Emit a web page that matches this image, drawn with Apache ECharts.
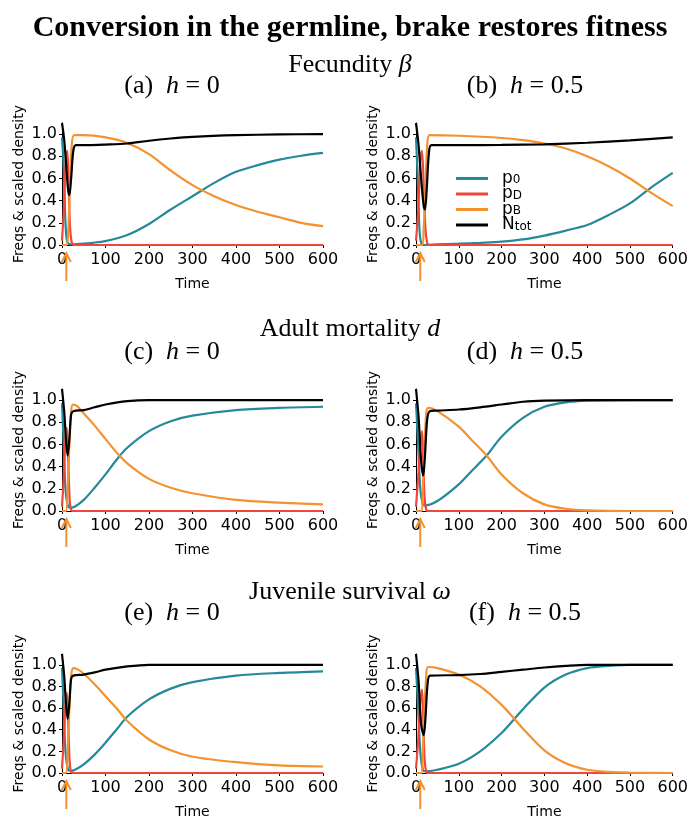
<!DOCTYPE html>
<html>
<head>
<meta charset="utf-8">
<script src="https://cdn.jsdelivr.net/npm/echarts@6/dist/echarts.min.js"></script>
<style>
  html, body { margin: 0; padding: 0; background: #fff; }
  #chart { width: 691px; height: 820px; }
</style>
</head>
<body>
<div id="chart"></div>
<script>
// tick labels and series names
var xTicks = [0, 100, 200, 300, 400, 500, 600];
var yTicks = [0, 0.2, 0.4, 0.6, 0.8, 1.0];
var seriesNames = ['p0', 'pD', 'pB', 'Ntot'];
var legendMain = ['p', 'p', 'p', 'N'];
var legendSub = ['0', 'D', 'B', 'tot'];
var arrowTime = 10;

// (a) fecundity, h = 0
var aP0 = [[0,0.97],[4,0.7],[8,0.2],[12,0.03],[20,0.005],[40,0.01],[70,0.02],[100,0.035],[150,0.09],[200,0.19],[250,0.32],[300,0.44],[350,0.56],[400,0.66],[450,0.72],[500,0.77],[550,0.805],[600,0.83]];
var aPD = [[0,0.04],[4,0.3],[8,0.7],[12,0.85],[15,0.6],[18,0.2],[22,0.03],[28,0],[100,0],[600,0]];
var aPB = [[0,0],[10,0],[14,0.1],[18,0.5],[22,0.88],[28,0.99],[50,0.99],[100,0.97],[150,0.92],[200,0.82],[250,0.67],[300,0.54],[350,0.44],[400,0.36],[450,0.3],[500,0.25],[550,0.2],[600,0.17]];
var aN  = [[0,1.1],[5,0.95],[10,0.7],[14,0.5],[17,0.45],[21,0.6],[26,0.85],[32,0.9],[60,0.9],[100,0.905],[150,0.915],[200,0.94],[250,0.96],[300,0.975],[400,0.99],[500,0.997],[600,1.0]];

// (b) fecundity, h = 0.5
var bP0 = [[0,0.97],[4,0.6],[8,0.15],[12,0.02],[20,0],[50,0.005],[100,0.012],[150,0.02],[200,0.03],[250,0.05],[300,0.085],[350,0.13],[400,0.18],[450,0.27],[500,0.375],[550,0.52],[600,0.65]];
var bPD = [[0,0.04],[5,0.3],[10,0.75],[14,0.85],[18,0.55],[22,0.15],[26,0.02],[30,0],[100,0],[600,0]];
var bPB = [[0,0],[14,0],[18,0.15],[22,0.5],[26,0.88],[32,0.99],[100,0.985],[200,0.965],[250,0.945],[300,0.915],[350,0.87],[400,0.8],[450,0.71],[500,0.6],[550,0.47],[600,0.35]];
var bN  = [[0,1.1],[6,0.9],[12,0.6],[18,0.35],[21,0.32],[25,0.5],[30,0.82],[36,0.9],[100,0.9],[200,0.902],[300,0.908],[400,0.922],[500,0.943],[600,0.97]];

// (c) adult mortality, h = 0
var cP0 = [[0,0.97],[4,0.6],[8,0.2],[14,0.04],[20,0.03],[30,0.04],[50,0.1],[75,0.21],[100,0.33],[125,0.46],[150,0.57],[200,0.72],[250,0.81],[300,0.86],[400,0.91],[500,0.93],[600,0.94]];
var cPD = [[0,0.04],[4,0.3],[8,0.65],[11,0.75],[14,0.5],[17,0.15],[20,0.02],[25,0],[100,0],[600,0]];
var cPB = [[0,0],[9,0],[13,0.2],[17,0.6],[21,0.9],[25,0.96],[35,0.945],[50,0.88],[75,0.77],[100,0.65],[125,0.53],[150,0.43],[200,0.29],[250,0.21],[300,0.16],[400,0.1],[500,0.075],[600,0.06]];
var cN  = [[0,1.1],[5,0.9],[9,0.65],[13,0.5],[17,0.65],[21,0.87],[26,0.9],[50,0.91],[75,0.935],[100,0.96],[150,0.99],[200,1.0],[600,1.0]];

// (d) adult mortality, h = 0.5
var dP0 = [[0,0.97],[5,0.6],[10,0.2],[16,0.06],[20,0.05],[50,0.09],[100,0.24],[130,0.36],[165,0.5],[200,0.67],[250,0.84],[300,0.94],[350,0.98],[400,0.995],[500,1.0],[600,1.0]];
var dPD = [[0,0.04],[5,0.3],[10,0.6],[14,0.72],[17,0.45],[20,0.12],[24,0.01],[28,0],[100,0],[600,0]];
var dPB = [[0,0],[12,0],[16,0.2],[20,0.6],[24,0.88],[28,0.93],[50,0.9],[100,0.76],[130,0.64],[165,0.5],[200,0.33],[250,0.16],[300,0.06],[350,0.02],[400,0.006],[500,0],[600,0]];
var dN  = [[0,1.1],[6,0.85],[12,0.45],[17,0.32],[21,0.5],[26,0.82],[32,0.9],[50,0.905],[100,0.915],[150,0.935],[200,0.96],[250,0.985],[300,0.995],[400,1.0],[600,1.0]];

// (e) juvenile survival, h = 0
var eP0 = [[0,0.97],[4,0.6],[8,0.2],[14,0.03],[20,0.02],[30,0.03],[50,0.08],[75,0.17],[100,0.28],[125,0.4],[150,0.52],[200,0.68],[250,0.78],[300,0.84],[400,0.9],[500,0.925],[600,0.94]];
var ePD = [[0,0.04],[4,0.3],[8,0.62],[11,0.74],[14,0.5],[17,0.15],[20,0.02],[25,0],[100,0],[600,0]];
var ePB = [[0,0],[9,0],[13,0.2],[17,0.6],[21,0.9],[26,0.97],[35,0.96],[50,0.92],[75,0.82],[100,0.71],[125,0.6],[150,0.48],[200,0.31],[250,0.21],[300,0.15],[400,0.1],[500,0.07],[600,0.06]];
var eN  = [[0,1.1],[5,0.9],[9,0.65],[13,0.5],[17,0.65],[21,0.87],[26,0.9],[50,0.91],[75,0.93],[100,0.955],[150,0.985],[200,1.0],[600,1.0]];

// (f) juvenile survival, h = 0.5
var fP0 = [[0,0.97],[5,0.6],[10,0.2],[16,0.03],[22,0.015],[50,0.03],[100,0.085],[150,0.2],[200,0.37],[230,0.5],[250,0.59],[300,0.79],[350,0.91],[400,0.97],[450,0.99],[500,1.0],[600,1.0]];
var fPD = [[0,0.04],[5,0.3],[10,0.65],[14,0.77],[17,0.5],[20,0.13],[24,0.01],[28,0],[100,0],[600,0]];
var fPB = [[0,0],[12,0],[16,0.2],[20,0.6],[24,0.9],[28,0.98],[50,0.97],[100,0.91],[150,0.8],[200,0.63],[230,0.5],[250,0.41],[300,0.21],[350,0.09],[400,0.03],[450,0.01],[500,0.004],[600,0]];
var fN  = [[0,1.1],[6,0.85],[12,0.45],[18,0.35],[22,0.5],[27,0.82],[33,0.9],[100,0.905],[150,0.915],[200,0.935],[250,0.955],[300,0.975],[350,0.99],[400,1.0],[600,1.0]];

var panelData = [[aP0, aPD, aPB, aN], [bP0, bPD, bPB, bN], [cP0, cPD, cPB, cN],
                 [dP0, dPD, dPB, dN], [eP0, ePD, ePB, eN], [fP0, fPD, fPB, fN]];
var panelTags = ['(a)', '(b)', '(c)', '(d)', '(e)', '(f)'];
var panelH = ['0', '0.5', '0', '0.5', '0', '0.5'];
var rowTitles = [['Fecundity ', 'β'], ['Adult mortality ', 'd'], ['Juvenile survival ', 'ω']];

var colors = ['#24899a', '#f1463a', '#f3922f', '#000000'];
var sans = 'DejaVu Sans';
var serif = 'Liberation Serif';
var gridLeft = [62, 416];
var gridTop = [123, 389, 654];
var rowTitleY = [65, 329, 592];
var subTitleY = [86, 352, 613];
var subTitleX = [172, 525];

var chart = echarts.init(document.getElementById('chart'), null, { renderer: 'canvas' });

var grids = [], xAxes = [], yAxes = [], series = [], graphics = [];

graphics.push({
  type: 'text', x: 350, y: 28,
  style: { text: 'Conversion in the germline, brake restores fitness', font: 'bold 30px "' + serif + '"',
           fill: '#000', textAlign: 'center', textVerticalAlign: 'middle' }
});

rowTitles.forEach(function(rt, r) {
  graphics.push({
    type: 'text', x: 350, y: rowTitleY[r],
    style: { text: rt[0] + '{i|' + rt[1] + '}', font: '26px "' + serif + '"', fill: '#000',
             textAlign: 'center', textVerticalAlign: 'middle',
             rich: { i: { fontFamily: serif, fontSize: 26, fontStyle: 'italic', fill: '#000' } } }
  });
});

panelData.forEach(function(pd, i) {
  var col = i % 2, row = Math.floor(i / 2);
  grids.push({ left: gridLeft[col], top: gridTop[row], width: 261, height: 122, containLabel: false });
  xAxes.push({
    gridIndex: i, type: 'value', min: 0, max: 600, interval: 100,
    name: 'Time', nameLocation: 'middle', nameGap: 32,
    nameTextStyle: { fontFamily: sans, fontSize: 14, color: '#000' },
    axisLine: { show: true, lineStyle: { color: '#000', width: 1 } },
    axisTick: { show: true, length: 3, lineStyle: { color: '#000' } },
    axisLabel: { fontFamily: sans, fontSize: 16, color: '#000', margin: 7,
                 customValues: xTicks },
    splitLine: { show: false }
  });
  yAxes.push({
    gridIndex: i, type: 'value', min: 0, max: 1.1,
    name: 'Freqs & scaled density', nameLocation: 'middle', nameGap: 36,
    nameTextStyle: { fontFamily: sans, fontSize: 14, color: '#000' },
    axisLine: { show: true, lineStyle: { color: '#000', width: 1 } },
    axisTick: { show: true, length: 3, customValues: yTicks, lineStyle: { color: '#000' } },
    axisLabel: { fontFamily: sans, fontSize: 16, color: '#000', margin: 5,
                 customValues: yTicks, formatter: function(v) { return v.toFixed(1); } },
    splitLine: { show: false }
  });
  pd.forEach(function(d, k) {
    series.push({
      name: seriesNames[k], type: 'line', xAxisIndex: i, yAxisIndex: i,
      data: d, smooth: 0.3, showSymbol: false, symbol: 'none',
      lineStyle: { color: colors[k], width: 2.2 }, itemStyle: { color: colors[k] },
      z: 2 + k, animation: false
    });
  });
  series.push({
    type: 'custom', xAxisIndex: i, yAxisIndex: i, data: [[arrowTime, 0]], silent: true,
    clip: false, z: 10,
    renderItem: function(params, api) {
      var base = api.coord([api.value(0), 0]);
      var x = base[0], y0 = base[1] + 8, y1 = base[1] + 36;
      var st = { stroke: '#f3922f', lineWidth: 2, fill: null };
      return { type: 'group', children: [
        { type: 'line', shape: { x1: x, y1: y0, x2: x, y2: y1 }, style: st },
        { type: 'polyline', shape: { points: [[x - 4.5, y0 + 9], [x, y0], [x + 4.5, y0 + 9]] }, style: st }
      ] };
    }
  });
  graphics.push({
    type: 'text', x: subTitleX[col], y: subTitleY[row],
    style: { text: panelTags[i] + '  {i|h} = ' + panelH[i], font: '26px "' + serif + '"', fill: '#000',
             textAlign: 'center', textVerticalAlign: 'middle',
             rich: { i: { fontFamily: serif, fontSize: 26, fontStyle: 'italic', fill: '#000' } } }
  });
});

chart.setOption({
  animation: false,
  backgroundColor: '#fff',
  grid: grids,
  xAxis: xAxes,
  yAxis: yAxes,
  series: series,
  legend: {
    orient: 'vertical', left: 456, top: 170, padding: 0, itemWidth: 32, itemHeight: 3, itemGap: -1.5,
    icon: 'rect', data: seriesNames, selectedMode: false,
    formatter: function(name) {
      var k = seriesNames.indexOf(name);
      return '{m|' + legendMain[k] + '}{s|' + legendSub[k] + '}';
    },
    textStyle: {
      color: '#000',
      rich: {
        m: { fontFamily: sans, fontSize: 17, lineHeight: 15, color: '#000', padding: [0, 0, 0, 9] },
        s: { fontFamily: sans, fontSize: 12, lineHeight: 7, verticalAlign: 'bottom', color: '#000' }
      }
    }
  },
  graphic: graphics
});
window.addEventListener('resize', function() { chart.resize(); });
</script>
</body>
</html>
